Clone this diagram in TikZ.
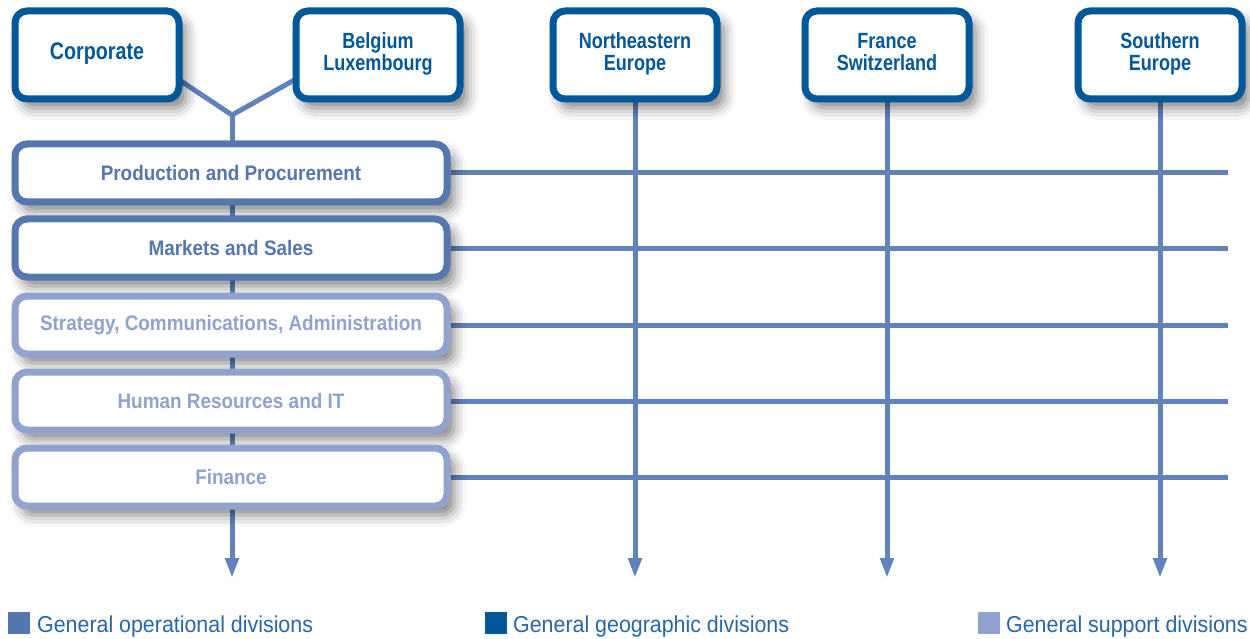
\documentclass[tikz,border=0pt]{standalone}
\usepackage{fontspec}
\setmainfont{Liberation Sans}
\newfontfamily\labelfont[FakeStretch=0.82]{Liberation Sans}
\newfontfamily\divfont[FakeStretch=0.90]{Liberation Sans}
\newfontfamily\keyfont[FakeStretch=0.93]{Liberation Sans}
\usetikzlibrary{arrows.meta,shadows.blur,backgrounds,calc}

\definecolor{geoblue}{HTML}{00589B}
\definecolor{opblue}{HTML}{5577B0}
\definecolor{supblue}{HTML}{8FA3CE}
\definecolor{lineblue}{HTML}{6183BC}
\definecolor{keytextblue}{HTML}{2467AA}

\tikzset{
  boxshadow/.style={blur shadow={shadow xshift=7pt,shadow yshift=-9pt,
      shadow blur radius=12pt,shadow opacity=50}},
  geobox/.style={draw=geoblue,line width=7pt,rounded corners=12pt,fill=white,
    minimum width=164pt,minimum height=88pt,align=center,text=geoblue,
    font=\labelfont\bfseries\fontsize{22}{22}\selectfont,
    execute at end node=\strut,boxshadow},
  divbox/.style={line width=7pt,rounded corners=12pt,fill=white,
    minimum width=432pt,minimum height=58pt,
    font=\divfont\bfseries\fontsize{21}{21}\selectfont,boxshadow},
  opbox/.style={divbox,draw=opblue,text=opblue},
  supbox/.style={divbox,draw=supblue,text=supblue},
  link/.style={draw=lineblue,line width=5pt},
  flow/.style={link,-{Triangle[length=20pt,width=13pt]}},
  keybox/.style={minimum size=22pt,inner sep=0pt},
  keytext/.style={anchor=base west,inner sep=0pt,text=keytextblue,
    font=\keyfont\fontsize{23}{23}\selectfont}
}

\begin{document}
\begin{tikzpicture}
  \useasboundingbox (0pt,0pt) rectangle (1250pt,-639pt);

  % top row
  \node[geobox,font=\labelfont\bfseries\fontsize{24}{24}\selectfont]
    (corp) at (97pt,-55pt) {Corporate};
  \node[geobox] (belux) at (378pt,-55pt) {Belgium\\Luxembourg};
  \node[geobox] (neeu) at (635pt,-55pt) {Northeastern\\Europe};
  \node[geobox] (frch) at (887pt,-55pt) {France\\Switzerland};
  \node[geobox] (sweu) at (1160pt,-55pt) {Southern\\Europe};

  % divisions
  \node[opbox] (prod) at (231pt,-173pt) {Production and Procurement};
  \node[opbox] (sales) at (231pt,-248pt) {Markets and Sales};
  \node[supbox] (strat) at (231pt,-325pt) {Strategy, Communications, Administration};
  \node[supbox] (hrit) at (231pt,-401pt) {Human Resources and IT};
  \node[supbox] (fin) at (231pt,-477pt) {Finance};

  \coordinate (joint) at (232pt,-115pt);
  \coordinate (spineend) at (232pt,-578pt);
  \coordinate (lineend) at (1228pt,0pt);

  \begin{scope}[on background layer]
    \draw[link] ($(corp.south east)+(-13pt,29pt)$) -- (joint);
    \draw[link] ($(belux.south west)+(8pt,26pt)$) -- (joint);
    \draw[flow] (joint) -- (spineend);

    \draw[flow] (neeu) -- (neeu |- spineend);
    \draw[flow] (frch) -- (frch |- spineend);
    \draw[flow] (sweu) -- (sweu |- spineend);

    \draw[link] (prod) -- (prod -| lineend);
    \draw[link] (sales) -- (sales -| lineend);
    \draw[link] (strat) -- (strat -| lineend);
    \draw[link] (hrit) -- (hrit -| lineend);
    \draw[link] (fin) -- (fin -| lineend);
  \end{scope}

  % legend
  \node[keybox,fill=opblue] (keyop) at (19pt,-623pt) {};
  \node[keytext] (keyoptext) at (37pt,-632pt) {General operational divisions};
  \node[keybox,fill=geoblue] (keygeo) at (496pt,-623pt) {};
  \node[keytext] (keygeotext) at (513pt,-632pt) {General geographic divisions};
  \node[keybox,fill=supblue] (keysup) at (989pt,-623pt) {};
  \node[keytext] (keysuptext) at (1006pt,-632pt) {General support divisions};

\end{tikzpicture}
\end{document}
